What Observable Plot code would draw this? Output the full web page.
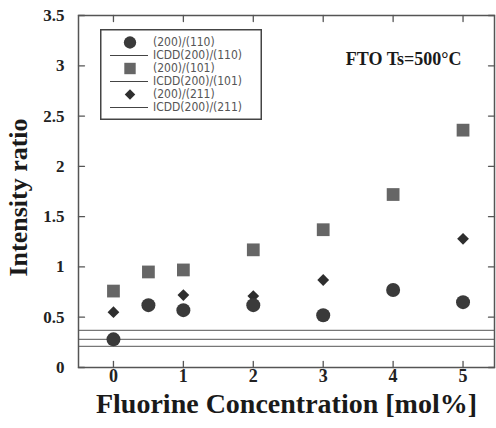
<!DOCTYPE html>
<html><head><meta charset="utf-8">
<script src="https://cdn.jsdelivr.net/npm/d3@7"></script>
<script src="https://cdn.jsdelivr.net/npm/@observablehq/plot@0.6"></script>
<style>
body{margin:0;background:#fff}
#wrap{position:relative;width:496px;height:428px}
#legend{position:absolute;left:100px;top:29px}
</style>
</head><body><div id="wrap"><div id="chart"></div><div id="legend"></div></div>
<script>
// ---- data ----
const conc = [0, 0.5, 1, 2, 3, 4, 5];
const ratio110 = [0.28, 0.62, 0.57, 0.62, 0.52, 0.77, 0.65];
const ratio101 = [0.76, 0.95, 0.97, 1.17, 1.37, 1.72, 2.36];
const ratio211 = [0.55, 0.62, 0.72, 0.71, 0.87, 0.77, 1.28];
const icddNames = ["ICDD(200)/(110)", "ICDD(200)/(101)", "ICDD(200)/(211)"];
const icddValues = [0.21, 0.28, 0.37];
const xTicks = [0, 1, 2, 3, 4, 5];
const xTickLabels = ["0", "1", "2", "3", "4", "5"];
const yTicks = [0, 0.5, 1, 1.5, 2, 2.5, 3, 3.5];
const yTickLabels = ["0", "0.5", "1", "1.5", "2", "2.5", "3", "3.5"];
const legendLabels = ["(200)/(110)", "ICDD(200)/(110)", "(200)/(101)", "ICDD(200)/(101)", "(200)/(211)", "ICDD(200)/(211)"];
const xTitle = "Fluorine Concentration [mol%]";
const yTitle = "Intensity ratio";
const annotation = "FTO Ts=500°C";

const pts = (ys) => conc.map((c, i) => ({x: c, y: ys[i]}));
const icdd = icddNames.map((n, i) => ({name: n, y: icddValues[i]}));

const serif = "'Liberation Serif', 'Times New Roman', serif";
const tickShape = {draw(ctx, l) { ctx.moveTo(0, 0); ctx.lineTo(0, -l); }};
const axisCol = "#555";

const chart = Plot.plot({
  width: 496, height: 428,
  marginLeft: 78, marginRight: 2, marginTop: 15, marginBottom: 61,
  x: {domain: [-0.5, 5.45], axis: null},
  y: {domain: [0, 3.5], axis: null},
  style: {background: "white", overflow: "visible"},
  marks: [
    Plot.ruleY(icdd, {y: "y", stroke: "#777", strokeWidth: 1.3}),
    Plot.dot(pts(ratio211), {x: "x", y: "y", symbol: "diamond2", r: 5.3, fill: "#2e2e2e", stroke: "none"}),
    Plot.dot(pts(ratio101), {x: "x", y: "y", symbol: "square", r: 7.2, fill: "#666", stroke: "none"}),
    Plot.dot(pts(ratio110), {x: "x", y: "y", symbol: "circle", r: 7, fill: "#3a3a3a", stroke: "none"}),
    Plot.frame({stroke: axisCol, strokeWidth: 1.5}),
    Plot.vector(yTicks, {y: d => d, frameAnchor: "left", length: 6, rotate: 90, anchor: "start", shape: tickShape, stroke: axisCol, strokeWidth: 1.3}),
    Plot.vector(yTicks, {y: d => d, frameAnchor: "right", length: 6, rotate: -90, anchor: "start", shape: tickShape, stroke: axisCol, strokeWidth: 1.3}),
    Plot.vector(xTicks, {x: d => d, frameAnchor: "bottom", length: 6, rotate: 0, anchor: "start", shape: tickShape, stroke: axisCol, strokeWidth: 1.3}),
    Plot.vector(xTicks, {x: d => d, frameAnchor: "top", length: 6, rotate: 180, anchor: "start", shape: tickShape, stroke: axisCol, strokeWidth: 1.3}),
    Plot.text(yTicks, {y: d => d, text: (d, i) => yTickLabels[i], frameAnchor: "left", dx: -14, textAnchor: "end", fontFamily: serif, fontWeight: "bold", fontSize: 17, fill: "#222"}),
    Plot.text(xTicks, {x: d => d, text: (d, i) => xTickLabels[i], frameAnchor: "bottom", dy: 14, fontFamily: serif, fontWeight: "bold", fontSize: 18, fill: "#222"}),
    Plot.text([xTitle], {text: d => d, frameAnchor: "bottom", dy: 45, textAnchor: "middle", fontFamily: serif, fontWeight: "bold", fontSize: 28, fill: "#1a1a1a"}),
    Plot.text([yTitle], {text: d => d, frameAnchor: "left", dx: -60, dy: 6, textAnchor: "middle", rotate: -90, fontFamily: serif, fontWeight: "bold", fontSize: 26, fill: "#1a1a1a"}),
    Plot.text([annotation], {text: d => d, frameAnchor: "top-right", dx: -33, dy: 37, textAnchor: "end", fontFamily: serif, fontWeight: "bold", fontSize: 18, fill: "#1a1a1a"})
  ]
});
document.getElementById("chart").appendChild(chart);

// ---- legend overlay ----
const lw = 162, lh = 91, rowH = 13, row0 = 13.5;
const svg = d3.select("#legend").append("svg").attr("width", lw).attr("height", lh);
svg.append("rect").attr("x", 0.75).attr("y", 0.75).attr("width", lw - 1.5).attr("height", lh - 1.5)
  .attr("fill", "white").attr("stroke", "#444").attr("stroke-width", 1.5);
const symFor = [d3.symbolCircle, null, d3.symbolSquare, null, d3.symbolDiamond2, null];
const colFor = ["#3a3a3a", null, "#666", null, "#2e2e2e", null];
const sizeFor = [120, 0, 130, 0, 70, 0];
legendLabels.forEach((lab, i) => {
  const cy = row0 + i * rowH;
  if (symFor[i]) {
    svg.append("path").attr("d", d3.symbol(symFor[i], sizeFor[i])()).attr("transform", `translate(30,${cy})`).attr("fill", colFor[i]);
  } else {
    svg.append("line").attr("x1", 10).attr("x2", 48).attr("y1", cy).attr("y2", cy).attr("stroke", "#444").attr("stroke-width", 1.2);
  }
  svg.append("text").attr("x", 53).attr("y", cy).attr("dominant-baseline", "middle")
    .attr("font-family", "'DejaVu Sans Condensed', 'DejaVu Sans', sans-serif").attr("font-size", 12).attr("fill", "#555").text(lab);
});
</script></body></html>
